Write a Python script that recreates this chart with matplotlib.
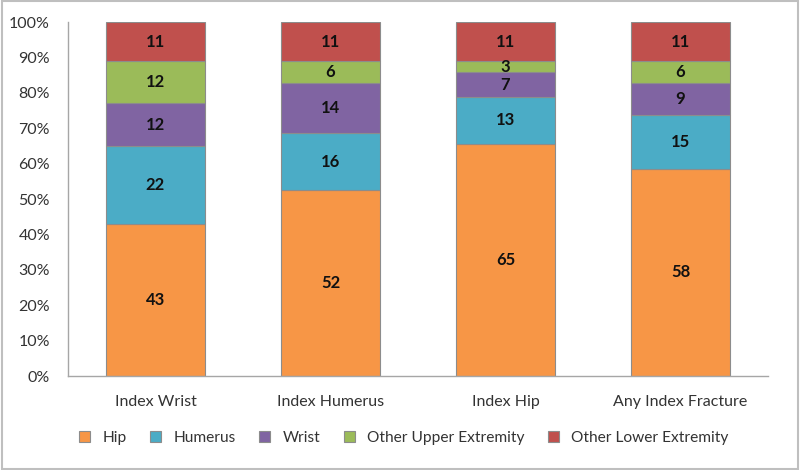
import numpy as np
import matplotlib
matplotlib.use('Agg')
import matplotlib.pyplot as plt
from matplotlib.ticker import PercentFormatter

plt.rcParams['font.family'] = ['Lato', 'DejaVu Sans']

categories = ['Index Wrist', 'Index Humerus', 'Index Hip', 'Any Index Fracture']
series = ['Hip', 'Humerus', 'Wrist', 'Other Upper Extremity', 'Other Lower Extremity']
hip = [43, 52, 65, 58]
humerus = [22, 16, 13, 15]
wrist = [12, 14, 7, 9]
other_upper = [12, 6, 3, 6]
other_lower = [11, 11, 11, 11]
colors = ['#F79646', '#4BACC6', '#8064A2', '#9BBB59', '#C0504D']

values = np.array([hip, humerus, wrist, other_upper, other_lower], dtype=float)
shares = values / values.sum(axis=0) * 100

fig = plt.figure(figsize=(8, 4.7), dpi=100)
ax = fig.add_axes([0.085, 0.2, 0.875, 0.753])

x = np.arange(len(categories))
bottom = np.zeros(len(categories))
for name, share, raw, color in zip(series, shares, values, colors):
    ax.bar(x, share, 0.57, bottom=bottom, color=color, edgecolor='#8c8c8c',
           linewidth=0.8, label=name)
    for xi, b, s, r in zip(x, bottom, share, raw):
        ax.text(xi, b + s / 2, f'{int(r)}', ha='center', va='center',
                fontsize=12, fontweight='bold', color='#111111')
    bottom += share

ax.set_xlim(-0.5, len(categories) - 0.5)
ax.set_ylim(0, 100)
ax.set_yticks(np.arange(0, 101, 10))
ax.yaxis.set_major_formatter(PercentFormatter(decimals=0))
ax.set_xticks(x)
ax.set_xticklabels(categories)
ax.tick_params(axis='both', length=0, labelsize=11.5, colors='#333333')
ax.tick_params(axis='x', pad=14)
ax.tick_params(axis='y', pad=13)
for side in ['top', 'right']:
    ax.spines[side].set_visible(False)
for side in ['left', 'bottom']:
    ax.spines[side].set_color('#a6a6a6')
    ax.spines[side].set_linewidth(1)

fig.legend(loc='center', bbox_to_anchor=(0.505, 0.068), ncol=5, frameon=False,
           fontsize=11.2, handlelength=0.7, handleheight=0.7, columnspacing=1.5,
           handletextpad=0.8, labelcolor='#333333')

fig.patches.append(plt.Rectangle((0.002, 0.003), 0.996, 0.994, transform=fig.transFigure,
                                 fill=False, edgecolor='#bfbfbf', linewidth=1.5))

fig.savefig('out.png', dpi=100)
